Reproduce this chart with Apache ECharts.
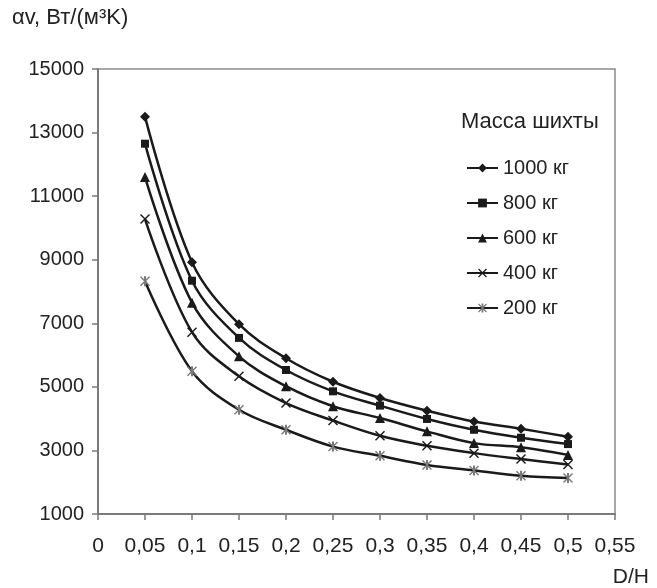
<!DOCTYPE html>
<html>
<head>
<meta charset="utf-8">
<title>αv от D/H</title>
<script src="https://cdn.jsdelivr.net/npm/echarts@6/dist/echarts.min.js"></script>
<style>
  html, body { margin: 0; padding: 0; background: #fff; }
  #chart { width: 657px; height: 588px; }
</style>
</head>
<body>
<div id="chart"></div>
<script>
// отношение D/H
var dh = [0.05, 0.1, 0.15, 0.2, 0.25, 0.3, 0.35, 0.4, 0.45, 0.5];
// αv, Вт/(м3К) для разной массы шихты
var m1000 = [13500, 8920, 6970, 5900, 5160, 4650, 4250, 3910, 3680, 3430];
var m800 = [12650, 8340, 6540, 5530, 4860, 4410, 3990, 3650, 3400, 3200];
var m600 = [11600, 7650, 5960, 5020, 4390, 4020, 3600, 3230, 3100, 2860];
var m400 = [10280, 6720, 5330, 4490, 3940, 3460, 3145, 2915, 2730, 2560];
var m200 = [8320, 5490, 4280, 3650, 3120, 2830, 2545, 2370, 2200, 2130];
var names = ['1000 кг', '800 кг', '600 кг', '400 кг', '200 кг'];

var FONT = "'Liberation Sans', Arial, sans-serif";
var crossPath = 'path://M1,0 L5,4 L9,0 L10,1 L6,5 L10,9 L9,10 L5,6 L1,10 L0,9 L4,5 L0,1 Z';
var starPath = 'path://M1,0 L5,4 L9,0 L10,1 L6,5 L10,9 L9,10 L5,6 L1,10 L0,9 L4,5 L0,1 Z M4,0 L6,0 L6,10 L4,10 Z';

function pairs(ys) {
  return ys.map(function (y, i) { return [dh[i], y]; });
}

function makeSeries(name, ys, symbol, size, markColor) {
  return {
    name: name,
    type: 'line',
    data: pairs(ys),
    smooth: 0.35,
    symbol: symbol,
    symbolSize: size,
    showAllSymbol: true,
    lineStyle: { color: '#1a1a1a', width: 2.5 },
    itemStyle: { color: markColor },
    emphasis: { disabled: true },
    z: 3
  };
}

var myChart = echarts.init(document.getElementById('chart'));
var option = {
  animation: false,
  backgroundColor: '#fff',
  textStyle: { fontFamily: FONT },
  grid: {
    left: 98, right: 42, top: 69, bottom: 74,
    show: true, borderColor: '#8c8c8c', borderWidth: 1.5
  },
  legend: {
    orient: 'vertical',
    left: 466, top: 158, padding: 0,
    itemWidth: 31, itemHeight: 11, itemGap: 15,
    data: names,
    textStyle: { fontSize: 20, color: '#222', fontFamily: FONT }
  },
  graphic: [
    { type: 'text', left: 12, top: 7,
      style: { text: 'αv, Вт/(м³K)', fontSize: 22, fontFamily: FONT, fill: '#222' } },
    { type: 'text', left: 461, top: 111,
      style: { text: 'Масса шихты', fontSize: 22, fontFamily: FONT, fill: '#222' } },
    { type: 'text', right: 8, top: 567,
      style: { text: 'D/H', fontSize: 21, fontFamily: FONT, fill: '#222' } }
  ],
  xAxis: {
    type: 'value',
    min: 0, max: 0.55, interval: 0.05,
    axisLine: { lineStyle: { color: '#7a7a7a', width: 2 } },
    axisTick: { show: true, inside: false, length: 6, lineStyle: { color: '#7a7a7a', width: 1.5 } },
    splitLine: { show: false },
    axisLabel: {
      margin: 22, fontSize: 21, color: '#222', fontFamily: FONT,
      formatter: function (v) { return String(+v.toFixed(2)).replace('.', ','); }
    }
  },
  yAxis: {
    type: 'value',
    min: 1000, max: 15000, interval: 2000,
    axisLine: { show: true, lineStyle: { color: '#7a7a7a', width: 2 } },
    axisTick: { show: true, inside: false, length: 6, lineStyle: { color: '#7a7a7a', width: 1.5 } },
    splitLine: { show: false },
    axisLabel: {
      margin: 14, fontSize: 20, color: '#222', fontFamily: FONT,
      formatter: function (v) { return String(v); }
    }
  },
  series: [
    makeSeries(names[0], m1000, 'diamond', 10, '#1a1a1a'),
    makeSeries(names[1], m800, 'rect', 8, '#1a1a1a'),
    makeSeries(names[2], m600, 'triangle', 10, '#1a1a1a'),
    makeSeries(names[3], m400, crossPath, 10, '#1a1a1a'),
    makeSeries(names[4], m200, starPath, 10, '#7a7a7a')
  ]
};
myChart.setOption(option);
</script>
</body>
</html>
